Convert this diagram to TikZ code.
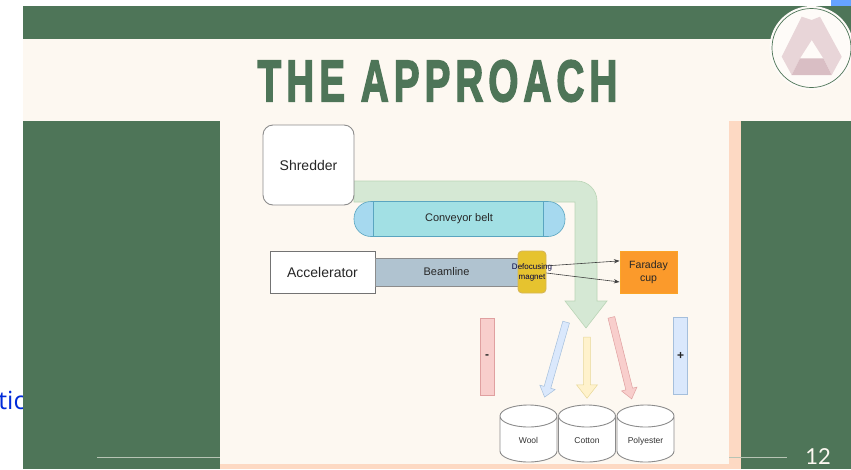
\documentclass[tikz,border=0pt]{standalone}
\usepackage{fontspec}
\setmainfont{Liberation Sans}
\newfontfamily\titlefont[LetterSpace=13,FakeBold=3]{Liberation Sans}
\newfontfamily\linkfont{Open Sans}
\newfontfamily\pagefont{Lato}
\usetikzlibrary{shapes.arrows, positioning, arrows.meta}
\definecolor{slidegreen}{HTML}{4E7558}
\definecolor{slidecream}{HTML}{FDF8F1}
\definecolor{slidepeach}{HTML}{FDD9C3}
\definecolor{edgegray}{HTML}{8C8C8C}
\definecolor{feedfill}{HTML}{D5E8D4}
\definecolor{feededge}{HTML}{BAD5B6}
\definecolor{beltbody}{HTML}{A2E0E4}
\definecolor{beltend}{HTML}{A6D9EF}
\definecolor{beltedge}{HTML}{5AA5C0}
\definecolor{beamfill}{HTML}{B0C3D0}
\definecolor{magnetfill}{HTML}{E6C32F}
\definecolor{magnetedge}{HTML}{D6B656}
\definecolor{cupfill}{HTML}{FB9A2B}
\definecolor{redfill}{HTML}{F8CECC}
\definecolor{rededge}{HTML}{E0A0A0}
\definecolor{bluefill}{HTML}{DAE8FC}
\definecolor{blueedge}{HTML}{A5BFDC}
\definecolor{yellowfill}{HTML}{FFF2CC}
\definecolor{yellowedge}{HTML}{E8D898}
\definecolor{logolight}{HTML}{E8D5D8}
\definecolor{logodark}{HTML}{D9BEC4}
\tikzset{
  box/.style={draw=edgegray, line width=0.9pt, fill=white, inner sep=0pt, align=center, text=black!85},
  bar/.style={box, line width=0.6pt, minimum width=14pt, minimum height=77pt, font=\bfseries\fontsize{12}{14}\selectfont},
  fatarrow/.style={single arrow, line width=0.5pt, inner sep=3.2pt,
    single arrow head extend=4.5pt, single arrow tip angle=76, single arrow head indent=0pt},
  binline/.style={draw=edgegray, fill=white, line width=0.9pt},
  binlabel/.style={inner sep=0pt, text height=6.5pt, text depth=2pt, text=black!80, font=\fontsize{8.5}{10}\selectfont},
}
\begin{document}
\begin{tikzpicture}[x=1pt, y=-1pt]
  \useasboundingbox (0,0) rectangle (851,469);
  \fill[white] (0,0) rectangle (851,469);
  \fill[blue!60!cyan!60!white] (831,0) rectangle (851,6);
  \node[anchor=east, text=blue!80!cyan!85!black, font=\linkfont\fontsize{25}{25}\selectfont] (linktext) at (29,400) {tic};

  % slide background
  \fill[slidegreen] (23,6) rectangle (851,469);
  \fill[slidecream] (23,39) rectangle (851,121);
  \fill[slidecream] (220,121) rectangle (729,464);
  \fill[slidepeach] (729,121) rectangle (741,469);
  \fill[slidepeach] (220,464) rectangle (741,469);
  \draw[slidecream!60!slidegreen] (97,457.5) -- (220,457.5) (729,457.5) -- (787,457.5);
  \node[text=slidecream, font=\pagefont\fontsize{22}{22}\selectfont] (pagenum) at (818,457) {12};

  % logo
  \fill[slidecream!50!white] (811.5,48) circle (42);
  \draw[slidegreen, line width=0.7pt] (811.5,48) circle (39.5);
  \fill[logolight] (801.7,16.7) -- (811.7,20) -- (820,16.7) -- (841.7,56.7) -- (831.7,75)
    -- (823.3,58.3) -- (811.7,40) -- (800,58.3) -- (791.7,75) -- (781.7,56.7) -- cycle;
  \fill[logodark] (800,58.3) -- (823.3,58.3) -- (831.7,75) -- (791.7,75) -- cycle;

  \node[text=slidegreen, xscale=.66, transform shape, font=\titlefont\bfseries\fontsize{58.6}{60}\selectfont] (title) at (437.5,81) {THE APPROACH};

  % feed line
  \draw[draw=feededge, fill=feedfill, line width=0.6pt] (354,181) -- (577,181)
    arc[start angle=-90, end angle=0, radius=20] -- (597,301) -- (607,301) -- (586,328) -- (565,301)
    -- (575,301) -- (575,202) -- (354,202) -- cycle;

  \node[box, rounded corners=10pt, minimum width=91pt, minimum height=80pt, font=\fontsize{14}{16}\selectfont] (shredder) at (308.5,165) {Shredder};

  % belt
  \node[draw=beltedge, fill=beltend, line width=0.6pt, rounded corners=17pt, minimum width=211pt, minimum height=35pt, inner sep=0pt] (belt) at (459.5,219) {};
  \draw[draw=beltedge, fill=beltbody, line width=0.7pt] (373,201.5) rectangle (543,236.5);
  \node[font=\fontsize{11}{13}\selectfont, text=black!85] (beltlabel) at (459,219) {Conveyor belt};

  \node[box, draw=black!55, minimum width=105pt, minimum height=42pt, font=\fontsize{14}{16}\selectfont] (accel) at (322.5,272) {Accelerator};
  \node[box, draw=black!45, fill=beamfill, minimum width=143pt, minimum height=28pt, font=\fontsize{11}{13}\selectfont] (beam) at (446.5,272) {Beamline};
  \node[box, draw=magnetedge, fill=magnetfill, rounded corners=4pt, minimum width=28pt, minimum height=42pt] (magnet) at (532,272) {};
  \node[align=center, inner sep=0pt, text=black!75!blue, font=\fontsize{8}{10}\selectfont] (magnetlabel) at (532,272.5) {Defocusing\\magnet};
  \node[box, draw=cupfill!90!yellow, fill=cupfill, minimum width=57pt, minimum height=42pt, font=\fontsize{10.5}{13}\selectfont] (cup) at (648.5,272) {Faraday\\cup};
  \draw[-Stealth, black!75, line width=0.6pt] (magnet.23) -- (cup.159);
  \draw[-Stealth, black!75, line width=0.6pt] (magnet.-4) -- (cup.199);

  \node[bar, draw=rededge, fill=redfill] (minus) at (487,357) {-};
  \node[bar, draw=blueedge, fill=bluefill] (plus) at (680.5,356) {+};

  \node[fatarrow, draw=blueedge, fill=bluefill, minimum height=78pt, minimum width=15pt, rotate=-106] (woolarrow) at (556,357.5) {};
  \node[fatarrow, draw=yellowedge, fill=yellowfill, minimum height=61pt, minimum width=21pt, single arrow head extend=7pt, rotate=-90] (cottonarrow) at (587,365.5) {};
  \node[fatarrow, draw=rededge, fill=redfill, minimum height=84pt, minimum width=15pt, rotate=-76] (polyarrow) at (621,356) {};

  % bins
  \foreach \n/\cx/\t in {wool/528.5/Wool, cotton/587/Cotton, poly/645.5/Polyester} {%
    \draw[binline] (\cx-28.5,416) -- (\cx-28.5,451) arc[start angle=180, end angle=0, x radius=28.5, y radius=11]
      -- (\cx+28.5,416) arc[start angle=0, end angle=-180, x radius=28.5, y radius=11]
      arc[start angle=180, end angle=0, x radius=28.5, y radius=11];
    \node[binlabel] (\n) at (\cx,441.5) {\t};
  }
\end{tikzpicture}
\end{document}
